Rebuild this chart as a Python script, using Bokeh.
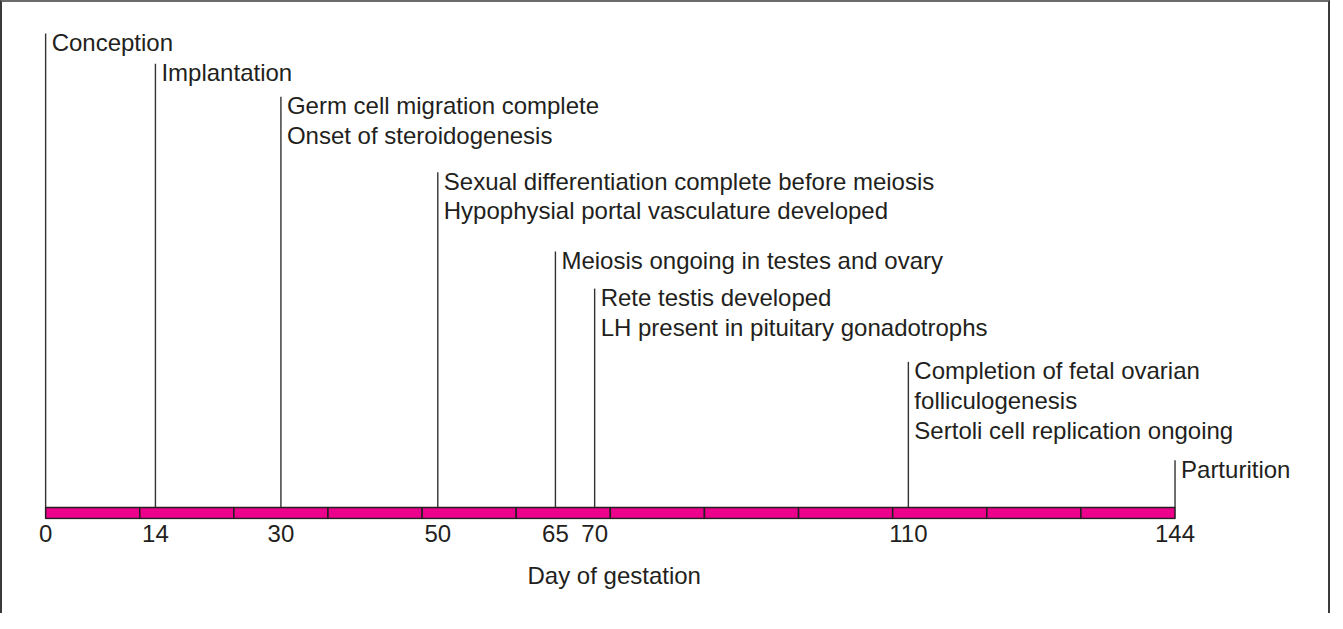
from bokeh.plotting import figure
from bokeh.models import Range1d, FixedTicker, Title, ColumnDataSource
from bokeh.core.properties import value
from bokeh.embed import file_html
from bokeh.resources import INLINE

# ---------------- data ----------------
days = [0, 14, 30, 50, 65, 70, 110, 144]
events = [
    ["Conception"],
    ["Implantation"],
    ["Germ cell migration complete", "Onset of steroidogenesis"],
    ["Sexual differentiation complete before meiosis",
     "Hypophysial portal vasculature developed"],
    ["Meiosis ongoing in testes and ovary"],
    ["Rete testis developed", "LH present in pituitary gonadotrophs"],
    ["Completion of fetal ovarian", "folliculogenesis",
     "Sertoli cell replication ongoing"],
    ["Parturition"],
]
tick_days = [0, 14, 30, 50, 65, 70, 110, 144]
segment_edges = [0, 12, 24, 36, 48, 60, 72, 84, 96, 108, 120, 132, 144]
axis_title = "Day of gestation"

# ---------------- layout (page pixel coordinates) ----------------
W, H = 1330, 613                # element size incl. borders (border-box)
BL, BR, BT = 2, 2, 2            # border widths
CW, CH = W - BL - BR, H - BT    # canvas size
PAGE_LEFT, PAGE_TOP = 8 + BL, 8 + BT
X0_PX, X1_PX = 53 - PAGE_LEFT, 1179 - PAGE_LEFT     # canvas x of first / last day
FRAME_BOTTOM = 525                                   # page y
label_first_y = [50, 80, 113, 188, 267, 304, 377, 475]
LINE_GAP = 29.5
BAR_TOP, BAR_BOTTOM = 513, 524
TITLE_CENTER_PX = 620 - PAGE_LEFT
TITLE_HALF_WIDTH = 85

INK = "#231F20"
FONT = "Liberation Sans"

px_per_day = (X1_PX - X0_PX) / (days[-1] - days[0])
x_start = days[0] - X0_PX / px_per_day
x_end = x_start + CW / px_per_day

p = figure(width=W, height=H, output_backend="svg", toolbar_location=None,
           x_range=Range1d(x_start, x_end),
           y_range=Range1d(FRAME_BOTTOM, PAGE_TOP),
           y_axis_location=None,
           min_border_left=0, min_border_right=0, min_border_top=0,
           min_border_bottom=PAGE_TOP + CH - FRAME_BOTTOM)
p.outline_line_color = None
p.xgrid.visible = False
p.ygrid.visible = False
p.styles = {"border-top": "2px solid #6a6a6a",
            "border-left": "2px solid #3a3a3a",
            "border-right": "2px solid #3a3a3a",
            "box-sizing": "border-box"}

# vertical event lines
line_tops = [y - 9 for y in label_first_y]
p.segment(x0=days, y0=line_tops, x1=days, y1=[BAR_TOP] * len(days),
          line_color="#333333", line_width=1.4)

# event labels
xs, ys, txt = [], [], []
for d, y0, lines in zip(days, label_first_y, events):
    for j, t in enumerate(lines):
        xs.append(d)
        ys.append(y0 + j * LINE_GAP)
        txt.append(t)
src = ColumnDataSource(dict(x=xs, y=ys, text=txt))
p.text(x="x", y="y", text="text", source=src,
       text_font=value(FONT), text_font_size="24px", text_color=INK,
       text_baseline="middle", text_align="left", x_offset=6)

# magenta bar
p.quad(left=segment_edges[:-1], right=segment_edges[1:],
       top=BAR_TOP, bottom=BAR_BOTTOM,
       fill_color="#EC008C", line_color=INK, line_width=1.5)

# axis
ax = p.xaxis[0]
ax.ticker = FixedTicker(ticks=tick_days)
ax.axis_line_color = None
ax.major_tick_line_color = None
ax.minor_tick_line_color = None
ax.major_label_text_font = FONT
ax.major_label_text_font_size = "24px"
ax.major_label_text_color = INK
ax.major_label_standoff = -1

p.add_layout(Title(text=axis_title, align="left",
                   offset=TITLE_CENTER_PX - TITLE_HALF_WIDTH, standoff=30,
                   text_font=FONT, text_font_size="24px",
                   text_font_style="normal", text_color=INK), "below")

open("out.html", "w").write(file_html(p, INLINE))
